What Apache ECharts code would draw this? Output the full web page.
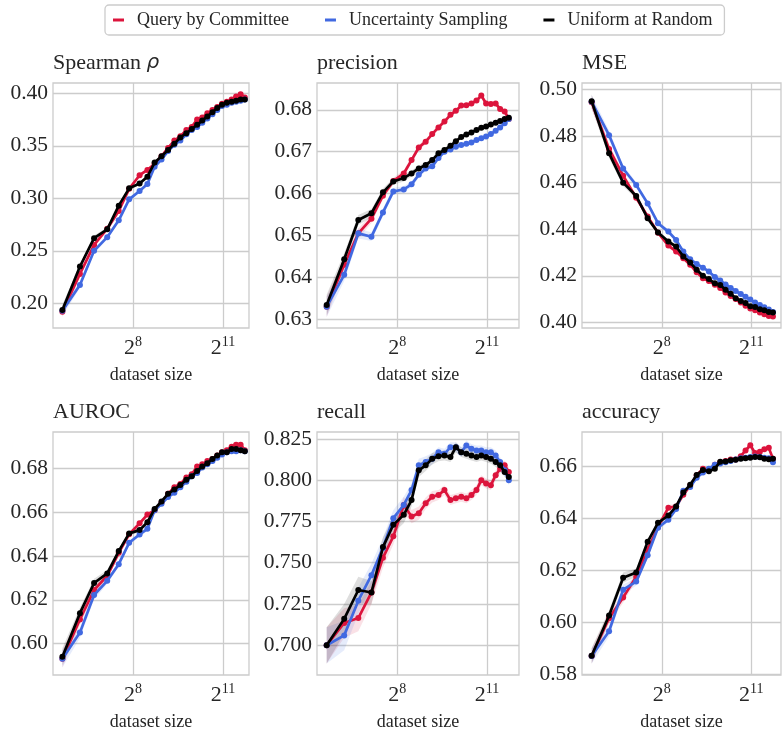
<!DOCTYPE html>
<html lang="en">
<head>
  <meta charset="UTF-8">
  <title>active learning curves</title>
  <script src="https://cdn.jsdelivr.net/npm/echarts@6/dist/echarts.min.js"></script>
  <style>body{margin:0;background:#fff;}</style>
</head>
<body>
<div id="box" style="width:782px;height:732px;"></div>
<script>
// dataset sizes (x, plotted on a log2 scale)
var sizes = [50, 75, 104, 141, 184, 234, 298, 357, 422, 495, 576, 666, 765, 879, 996, 1128, 1270, 1428, 1607, 1795, 2006, 2241, 2504, 2778, 3083, 3397];
var methods = ['Query by Committee', 'Uncertainty Sampling', 'Uniform at Random'];
var colors = ['#dc143c', '#4169e1', '#000000'];
var xTicks = [8, 11];

// Spearman rho
var spearmanQbc = [0.192, 0.228, 0.2556, 0.271, 0.288, 0.309, 0.322, 0.327, 0.333, 0.340, 0.348, 0.355, 0.359, 0.365, 0.368, 0.375, 0.377, 0.381, 0.384, 0.387, 0.390, 0.392, 0.394, 0.397, 0.399, 0.396];
var spearmanUs = [0.193, 0.2175, 0.250, 0.263, 0.279, 0.299, 0.307, 0.3137, 0.330, 0.337, 0.345, 0.351, 0.355, 0.361, 0.365, 0.368, 0.372, 0.376, 0.380, 0.384, 0.388, 0.389, 0.391, 0.392, 0.393, 0.394];
var spearmanRnd = [0.1937, 0.235, 0.262, 0.2705, 0.293, 0.3095, 0.314, 0.3206, 0.334, 0.340, 0.346, 0.352, 0.358, 0.362, 0.366, 0.370, 0.374, 0.378, 0.382, 0.386, 0.389, 0.391, 0.392, 0.393, 0.394, 0.394];
var spearmanBand = [0.005, 0.003, 0.0025, 0.002, 0.002, 0.0015, 0.0015, 0.0015, 0.0015, 0.0015, 0.0015, 0.0015, 0.0012, 0.0012, 0.0012, 0.0012, 0.0012, 0.0012, 0.0012, 0.0012, 0.0012, 0.0012, 0.0012, 0.0012, 0.0012, 0.0012];
var spearmanTicks = [0.20, 0.25, 0.30, 0.35, 0.40];

// precision
var precisionQbc = [0.633, 0.643, 0.6505, 0.654, 0.6595, 0.663, 0.6648, 0.668, 0.671, 0.6724, 0.6742, 0.6758, 0.6772, 0.6788, 0.6798, 0.681, 0.6811, 0.6815, 0.6822, 0.6834, 0.6815, 0.6814, 0.6815, 0.6802, 0.6796, 0.6778];
var precisionUs = [0.633, 0.6406, 0.6505, 0.6497, 0.6555, 0.6605, 0.661, 0.6622, 0.6645, 0.666, 0.6665, 0.6685, 0.6700, 0.6705, 0.6712, 0.6716, 0.6719, 0.6722, 0.6728, 0.6732, 0.6736, 0.6742, 0.6750, 0.6758, 0.6768, 0.6778];
var precisionRnd = [0.6334, 0.6443, 0.6537, 0.6553, 0.6603, 0.6629, 0.6637, 0.6648, 0.6660, 0.6668, 0.6680, 0.6696, 0.6704, 0.6714, 0.6725, 0.6735, 0.6741, 0.6746, 0.6752, 0.6757, 0.6760, 0.6765, 0.6769, 0.6773, 0.6778, 0.6781];
var precisionBand = [0.0025, 0.0015, 0.0012, 0.001, 0.0009, 0.0008, 0.0008, 0.0007, 0.0007, 0.0006, 0.0006, 0.0006, 0.0006, 0.0005, 0.0005, 0.0005, 0.0005, 0.0005, 0.0005, 0.0005, 0.0005, 0.0005, 0.0005, 0.0005, 0.0005, 0.0005];
var precisionTicks = [0.63, 0.64, 0.65, 0.66, 0.67, 0.68];

// MSE
var mseQbc = [0.4945, 0.4745, 0.463, 0.4535, 0.4455, 0.4385, 0.433, 0.4305, 0.4275, 0.4248, 0.4215, 0.419, 0.4178, 0.4162, 0.4148, 0.4128, 0.4113, 0.4100, 0.4085, 0.4072, 0.4060, 0.4052, 0.4043, 0.4035, 0.4028, 0.4025];
var mseUs = [0.4947, 0.4804, 0.4661, 0.459, 0.4511, 0.4426, 0.439, 0.4354, 0.4304, 0.4271, 0.4251, 0.4235, 0.4219, 0.4195, 0.418, 0.4163, 0.4148, 0.4135, 0.4122, 0.411, 0.4098, 0.4085, 0.4075, 0.4065, 0.4055, 0.4045];
var mseRnd = [0.495, 0.4726, 0.460, 0.4543, 0.4447, 0.4386, 0.4347, 0.4326, 0.4283, 0.4257, 0.4226, 0.420, 0.4186, 0.4168, 0.4161, 0.414, 0.4123, 0.4104, 0.4092, 0.4083, 0.4069, 0.4066, 0.4057, 0.4052, 0.4045, 0.4043];
var mseBand = [0.003, 0.002, 0.0015, 0.0012, 0.001, 0.001, 0.0009, 0.0009, 0.0008, 0.0008, 0.0008, 0.0008, 0.0007, 0.0007, 0.0007, 0.0007, 0.0007, 0.0007, 0.0007, 0.0007, 0.0007, 0.0007, 0.0007, 0.0007, 0.0007, 0.0007];
var mseTicks = [0.40, 0.42, 0.44, 0.46, 0.48, 0.50];

// AUROC
var aurocQbc = [0.593, 0.611, 0.6245, 0.631, 0.6415, 0.650, 0.655, 0.659, 0.661, 0.6645, 0.6685, 0.6715, 0.673, 0.676, 0.6775, 0.681, 0.682, 0.6835, 0.6845, 0.686, 0.6875, 0.6885, 0.690, 0.691, 0.691, 0.6885];
var aurocUs = [0.593, 0.605, 0.6222, 0.6287, 0.6363, 0.6461, 0.6499, 0.6525, 0.661, 0.664, 0.667, 0.669, 0.6715, 0.674, 0.6765, 0.678, 0.6805, 0.682, 0.6835, 0.685, 0.6865, 0.6875, 0.688, 0.688, 0.6885, 0.688];
var aurocRnd = [0.594, 0.6139, 0.6277, 0.6321, 0.6423, 0.6504, 0.6519, 0.6555, 0.6616, 0.665, 0.6685, 0.6705, 0.6725, 0.675, 0.6765, 0.679, 0.681, 0.6825, 0.6845, 0.686, 0.6875, 0.6875, 0.689, 0.689, 0.6885, 0.688];
var aurocBand = [0.004, 0.0025, 0.002, 0.0015, 0.0012, 0.001, 0.001, 0.001, 0.0009, 0.0009, 0.0008, 0.0008, 0.0008, 0.0008, 0.0007, 0.0007, 0.0007, 0.0007, 0.0007, 0.0007, 0.0007, 0.0007, 0.0007, 0.0007, 0.0007, 0.0007];
var aurocTicks = [0.60, 0.62, 0.64, 0.66, 0.68];

// recall
var recallQbc = [0.700, 0.7135, 0.7165, 0.732, 0.753, 0.766, 0.785, 0.778, 0.780, 0.786, 0.790, 0.791, 0.794, 0.788, 0.789, 0.790, 0.789, 0.791, 0.794, 0.800, 0.798, 0.797, 0.803, 0.807, 0.809, 0.805];
var recallUs = [0.700, 0.706, 0.727, 0.7425, 0.759, 0.777, 0.785, 0.794, 0.809, 0.811, 0.813, 0.817, 0.816, 0.820, 0.820, 0.817, 0.821, 0.819, 0.818, 0.818, 0.817, 0.817, 0.815, 0.811, 0.806, 0.800];
var recallRnd = [0.700, 0.716, 0.7335, 0.732, 0.7595, 0.773, 0.779, 0.788, 0.806, 0.809, 0.813, 0.8145, 0.815, 0.814, 0.820, 0.817, 0.816, 0.815, 0.814, 0.815, 0.814, 0.813, 0.811, 0.809, 0.805, 0.802];
var recallBand = [0.011, 0.009, 0.008, 0.007, 0.006, 0.005, 0.005, 0.004, 0.004, 0.0035, 0.0035, 0.003, 0.003, 0.003, 0.003, 0.003, 0.003, 0.003, 0.003, 0.003, 0.003, 0.003, 0.003, 0.003, 0.003, 0.003];
var recallTicks = [0.700, 0.725, 0.750, 0.775, 0.800, 0.825];

// accuracy
var accuracyQbc = [0.587, 0.6015, 0.6095, 0.6175, 0.628, 0.6365, 0.644, 0.6445, 0.649, 0.6525, 0.6565, 0.659, 0.6585, 0.6605, 0.6615, 0.662, 0.6625, 0.6625, 0.6638, 0.666, 0.668, 0.665, 0.6655, 0.6665, 0.667, 0.6628];
var accuracyUs = [0.587, 0.5965, 0.6125, 0.6156, 0.6257, 0.6363, 0.6394, 0.6435, 0.6505, 0.652, 0.6555, 0.6575, 0.659, 0.6605, 0.661, 0.6615, 0.662, 0.6625, 0.663, 0.6632, 0.6635, 0.6637, 0.6635, 0.6632, 0.663, 0.6615];
var accuracyRnd = [0.5871, 0.6026, 0.6171, 0.6191, 0.6309, 0.6382, 0.641, 0.6445, 0.6498, 0.6528, 0.6566, 0.6585, 0.658, 0.659, 0.6617, 0.6618, 0.6622, 0.6624, 0.6628, 0.663, 0.6632, 0.6635, 0.6634, 0.6628, 0.6626, 0.6628];
var accuracyBand = [0.003, 0.002, 0.002, 0.0015, 0.0012, 0.001, 0.001, 0.001, 0.0009, 0.0009, 0.0008, 0.0008, 0.0008, 0.0008, 0.0007, 0.0007, 0.0007, 0.0007, 0.0007, 0.0007, 0.0007, 0.0007, 0.0007, 0.0007, 0.0007, 0.0007];
var accuracyTicks = [0.58, 0.60, 0.62, 0.64, 0.66];

var panels = [
  {title: '{t|Spearman }{g|ρ}', ys: [spearmanQbc, spearmanUs, spearmanRnd], band: spearmanBand, ticks: spearmanTicks, yMin: 0.1765, yMax: 0.4098, dec: 2},
  {title: '{t|precision}', ys: [precisionQbc, precisionUs, precisionRnd], band: precisionBand, ticks: precisionTicks, yMin: 0.6279, yMax: 0.6864, dec: 2},
  {title: '{t|MSE}', ys: [mseQbc, mseUs, mseRnd], band: mseBand, ticks: mseTicks, yMin: 0.3976, yMax: 0.5028, dec: 2},
  {title: '{t|AUROC}', ys: [aurocQbc, aurocUs, aurocRnd], band: aurocBand, ticks: aurocTicks, yMin: 0.5856, yMax: 0.6968, dec: 2},
  {title: '{t|recall}', ys: [recallQbc, recallUs, recallRnd], band: recallBand, ticks: recallTicks, yMin: 0.682, yMax: 0.8292, dec: 3},
  {title: '{t|accuracy}', ys: [accuracyQbc, accuracyUs, accuracyRnd], band: accuracyBand, ticks: accuracyTicks, yMin: 0.5797, yMax: 0.6731, dec: 2}
];

var font = 'Liberation Serif';
var ink = '#262626';
var lefts = [53, 317, 582], widths = [196, 202, 199];
var tops = [83, 432], plotH = 245;
var xMins = [5.33, 5.32, 5.32], xMaxs = [11.87, 12.07, 12.0];

// confidence band drawn as one polygon through the axis scales
function bandSeries(i, vals, band, color) {
  var xs = sizes.map(function (s) { return Math.log2(s); });
  return {
    type: 'custom', xAxisIndex: i, yAxisIndex: i, silent: true, z: 1,
    encode: {x: 0, y: [1, 2]},
    data: xs.map(function (x, k) { return [x, vals[k] - band[k], vals[k] + band[k]]; }),
    renderItem: function (params, api) {
      if (params.dataIndex !== 0) return null;
      var upper = [], lower = [];
      xs.forEach(function (x, k) {
        upper.push(api.coord([x, vals[k] + band[k]]));
        lower.unshift(api.coord([x, vals[k] - band[k]]));
      });
      var cs = params.coordSys;
      var pts = echarts.graphic.clipPointsByRect(upper.concat(lower),
        {x: cs.x, y: cs.y, width: cs.width, height: cs.height});
      return {type: 'polygon', shape: {points: pts}, style: {fill: color, opacity: 0.13}};
    }
  };
}

var titles = [], grids = [], xAxes = [], yAxes = [], series = [];
panels.forEach(function (p, i) {
  var col = i % 3, row = Math.floor(i / 3);
  titles.push({
    text: p.title, left: lefts[col], top: tops[row] - 31, padding: 0,
    textStyle: {rich: {
      t: {fontFamily: font, fontSize: 22, color: ink, fontWeight: 'normal'},
      g: {fontFamily: 'DejaVu Sans', fontStyle: 'italic', fontWeight: 'normal', fontSize: 20, color: ink}
    }}
  });
  grids.push({left: lefts[col], top: tops[row], width: widths[col], height: plotH,
    show: true, borderColor: '#cccccc', borderWidth: 1.3, containLabel: false});
  xAxes.push({
    type: 'value', gridIndex: i, min: xMins[col], max: xMaxs[col],
    name: 'dataset size', nameLocation: 'middle', nameGap: 38,
    nameTextStyle: {fontFamily: font, fontSize: 18, color: ink},
    axisLine: {show: false},
    axisTick: {show: false, customValues: xTicks},
    splitLine: {show: true, lineStyle: {color: '#cccccc', width: 1.3}},
    axisLabel: {
      customValues: xTicks, margin: 7,
      formatter: function (v) { return '{b|2}{s|' + v + '}'; },
      rich: {
        b: {fontFamily: font, fontSize: 22, color: ink, lineHeight: 24, verticalAlign: 'bottom'},
        s: {fontFamily: font, fontSize: 14, color: ink, lineHeight: 13, verticalAlign: 'top'}
      }
    }
  });
  yAxes.push({
    type: 'value', gridIndex: i, min: p.yMin, max: p.yMax,
    axisLine: {show: false},
    axisTick: {show: false, customValues: p.ticks},
    splitLine: {show: true, lineStyle: {color: '#cccccc', width: 1.3}},
    axisLabel: {
      customValues: p.ticks, margin: 5,
      fontFamily: font, fontSize: 21.5, color: ink,
      formatter: function (v) { return v.toFixed(p.dec); }
    }
  });
  p.ys.forEach(function (vals, m) {
    series.push(bandSeries(i, vals, p.band, colors[m]));
  });
  p.ys.forEach(function (vals, m) {
    series.push({
      name: methods[m], type: 'line', xAxisIndex: i, yAxisIndex: i,
      symbol: 'circle', symbolSize: 6, z: 2 + m,
      lineStyle: {color: colors[m], width: 2.7},
      itemStyle: {color: colors[m]},
      data: sizes.map(function (s, k) { return [Math.log2(s), vals[k]]; })
    });
  });
});

var myChart = echarts.init(document.getElementById('box'), null, {renderer: 'canvas'});
myChart.setOption({
  animation: false,
  backgroundColor: '#ffffff',
  title: titles,
  legend: {
    data: methods, top: 5, left: 105,
    icon: 'rect', itemWidth: 11, itemHeight: 3, itemGap: 36,
    padding: [6, 12, 6, 8],
    borderColor: '#cccccc', borderWidth: 1.3, borderRadius: 4,
    textStyle: {fontFamily: font, fontSize: 18, color: ink, padding: [0, 0, 0, 8]}
  },
  grid: grids,
  xAxis: xAxes,
  yAxis: yAxes,
  series: series
});
</script>
</body>
</html>
